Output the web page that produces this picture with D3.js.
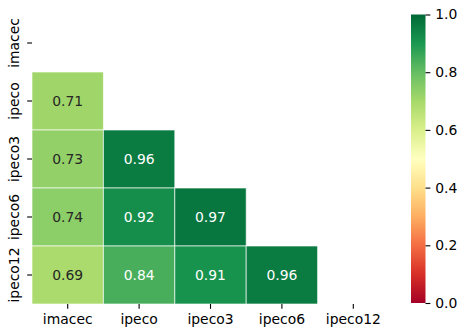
<!DOCTYPE html>
<html>
<head>
<meta charset="utf-8">
<script src="https://cdn.jsdelivr.net/npm/d3@7"></script>
<style>
  html, body { margin: 0; padding: 0; background: #fff; }
  svg { display: block; font-family: "DejaVu Sans", sans-serif; }
</style>
</head>
<body>
<svg id="chart" width="466" height="336"></svg>
<script>
// Variables of the correlation matrix (rows and columns share the order)
const variables = ["imacec", "ipeco", "ipeco3", "ipeco6", "ipeco12"];

// Lower-triangle correlations, one array per row (diagonal and above are masked)
const rowImacec = [];
const rowIpeco = [0.71];
const rowIpeco3 = [0.73, 0.96];
const rowIpeco6 = [0.74, 0.92, 0.97];
const rowIpeco12 = [0.69, 0.84, 0.91, 0.96];
const rows = [rowImacec, rowIpeco, rowIpeco3, rowIpeco6, rowIpeco12];

// Colorbar ticks
const cbarTicks = [0.0, 0.2, 0.4, 0.6, 0.8, 1.0];

// RdYlGn, 11-stop linear segmented map
const rdylgn = ["#a50026", "#d73027", "#f46d43", "#fdae61", "#fee08b", "#ffffbf",
                "#d9ef8b", "#a6d96a", "#66bd63", "#1a9850", "#006837"];

const cells = [];
rows.forEach((vals, r) => vals.forEach((v, c) => cells.push({ row: variables[r], col: variables[c], value: v })));

const svg = d3.select("#chart");
const fontSize = 13.9;
const plot = { left: 32, right: 389, top: 14, bottom: 304 };
const cbar = { left: 411, right: 425.5, top: 14.5, bottom: 303 };
const tickLen = 4.86, tickPad = 4.86;

const x = d3.scaleBand().domain(variables).range([plot.left, plot.right]);
const y = d3.scaleBand().domain(variables).range([plot.top, plot.bottom]);
const color = d3.scaleLinear()
  .domain(d3.range(rdylgn.length).map(i => i / (rdylgn.length - 1)))
  .range(rdylgn)
  .interpolate(d3.interpolateRgb)
  .clamp(true);

// Heatmap cells
svg.append("g").selectAll("rect").data(cells).join("rect")
  .attr("x", d => x(d.col))
  .attr("y", d => y(d.row))
  .attr("width", x.bandwidth())
  .attr("height", y.bandwidth())
  .attr("fill", d => color(d.value))
  .attr("stroke", "rgba(255,255,255,0.65)")
  .attr("stroke-width", 1);

// Annotations: dark text on light cells, white on dark cells
function textColor(v) {
  const c = d3.rgb(color(v));
  const lum = [c.r, c.g, c.b].map(u => { u /= 255; return u <= 0.03928 ? u / 12.92 : Math.pow((u + 0.055) / 1.055, 2.4); });
  const L = 0.2126 * lum[0] + 0.7152 * lum[1] + 0.0722 * lum[2];
  return L > 0.408 ? "#262626" : "#ffffff";
}
svg.append("g").selectAll("text").data(cells).join("text")
  .attr("x", d => x(d.col) + x.bandwidth() / 2)
  .attr("y", d => y(d.row) + y.bandwidth() / 2)
  .attr("text-anchor", "middle")
  .attr("dominant-baseline", "central")
  .attr("font-size", fontSize)
  .attr("fill", d => textColor(d.value))
  .text(d => d3.format(".2f")(d.value));

// X axis
const xAxis = svg.append("g").attr("transform", `translate(0,${plot.bottom})`)
  .call(d3.axisBottom(x).tickSize(tickLen).tickPadding(tickPad));
xAxis.select(".domain").remove();
xAxis.selectAll("line").attr("stroke", "#000").attr("stroke-width", 1.1);
xAxis.selectAll("text").attr("font-size", fontSize).attr("font-family", "DejaVu Sans").attr("fill", "#000");

// Y axis with vertical labels; baseline sits one descent left of the padding edge
const yAxis = svg.append("g").attr("transform", `translate(${plot.left},0)`)
  .call(d3.axisLeft(y).tickSize(tickLen).tickPadding(tickPad));
yAxis.select(".domain").remove();
yAxis.selectAll("line").attr("stroke", "#000").attr("stroke-width", 1.1);
yAxis.selectAll("text")
  .attr("font-size", fontSize).attr("font-family", "DejaVu Sans").attr("fill", "#000")
  .attr("x", null)
  .attr("text-anchor", "middle")
  .attr("transform", `translate(${-(tickLen + tickPad)},0) rotate(-90)`)
  .attr("dy", "-0.23em");

// Colorbar
const cy = d3.scaleLinear().domain([0, 1]).range([cbar.bottom, cbar.top]);
const defs = svg.append("defs");
const grad = defs.append("linearGradient").attr("id", "cbgrad")
  .attr("x1", 0).attr("y1", 1).attr("x2", 0).attr("y2", 0);
d3.range(0, 1.0001, 0.02).forEach(t => grad.append("stop").attr("offset", t).attr("stop-color", color(t)));
svg.append("rect")
  .attr("x", cbar.left).attr("y", cbar.top)
  .attr("width", cbar.right - cbar.left).attr("height", cbar.bottom - cbar.top)
  .attr("fill", "url(#cbgrad)");
const cAxis = svg.append("g").attr("transform", `translate(${cbar.right},0)`)
  .call(d3.axisRight(cy).tickValues(cbarTicks).tickFormat(d3.format(".1f")).tickSize(tickLen).tickPadding(tickPad));
cAxis.select(".domain").remove();
cAxis.selectAll("line").attr("stroke", "#000").attr("stroke-width", 1.1);
cAxis.selectAll("text").attr("font-size", fontSize).attr("font-family", "DejaVu Sans").attr("fill", "#000");
</script>
</body>
</html>
